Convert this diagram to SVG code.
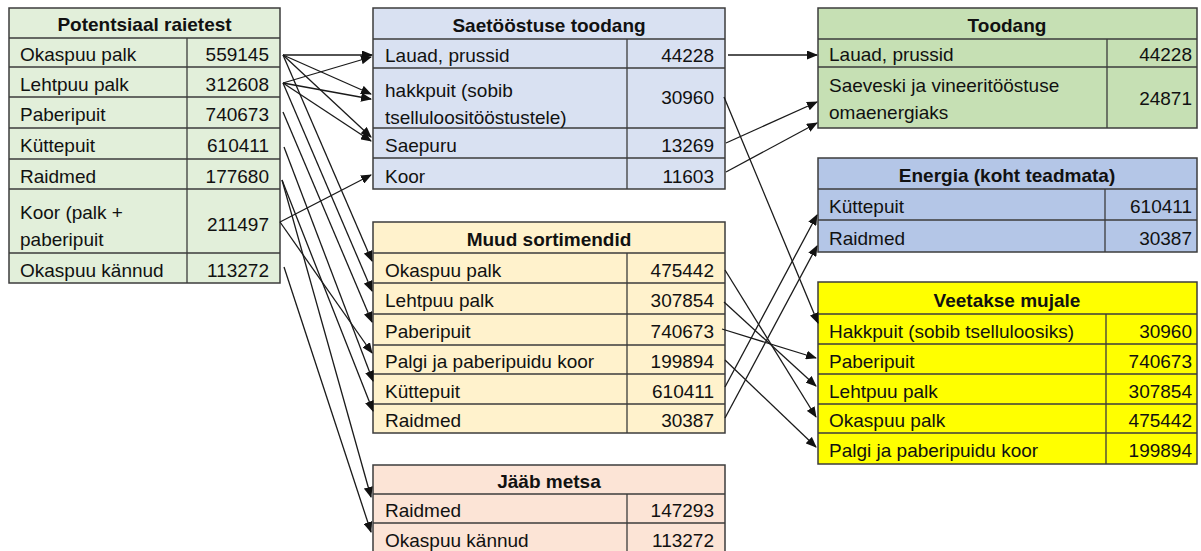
<svg xmlns="http://www.w3.org/2000/svg" width="1201" height="551" viewBox="0 0 1201 551">
<defs>
<style>
.t{font-family:"Liberation Sans",Arial,sans-serif;font-size:19px;fill:#111}
.h{font-family:"Liberation Sans",Arial,sans-serif;font-size:19px;font-weight:bold;fill:#111;text-anchor:middle}
.v{text-anchor:end}
.box{stroke:#3c3c3c;stroke-width:1.5}
.ln{stroke:#3c3c3c;stroke-width:1.3;fill:none}
.c{stroke:#1a1a1a;stroke-width:1.3;fill:none;marker-end:url(#ah)}
</style>
<marker id="ah" markerUnits="userSpaceOnUse" markerWidth="11" markerHeight="9" refX="10" refY="4.5" orient="auto">
<path d="M0,0 L11,4.5 L0,9 z" fill="#111"/>
</marker>
</defs>
<rect width="1201" height="551" fill="#fff"/>

<g id="potentsiaal">
<rect class="box" x="9" y="8" width="271" height="275" fill="#E2EFDA"/>
<path class="ln" d="M9,38H280M9,67H280M9,97H280M9,128H280M9,159H280M9,189H280M9,253H280M187,38V283"/>
<text class="h" x="144.5" y="31">Potentsiaal raietest</text>
<text class="t" x="20" y="61">Okaspuu palk</text><text class="t v" x="269" y="61">559145</text>
<text class="t" x="20" y="91">Lehtpuu palk</text><text class="t v" x="269" y="91">312608</text>
<text class="t" x="20" y="121">Paberipuit</text><text class="t v" x="269" y="121">740673</text>
<text class="t" x="20" y="152">Küttepuit</text><text class="t v" x="269" y="152">610411</text>
<text class="t" x="20" y="183">Raidmed</text><text class="t v" x="269" y="183">177680</text>
<text class="t" x="20" y="219">Koor (palk +</text><text class="t" x="20" y="246">paberipuit</text><text class="t v" x="269" y="231">211497</text>
<text class="t" x="20" y="277">Okaspuu kännud</text><text class="t v" x="269" y="277">113272</text>
</g>

<g id="saetoostus">
<rect class="box" x="373" y="8" width="352" height="181" fill="#D9E1F2"/>
<path class="ln" d="M373,39H725M373,68H725M373,128H725M373,158H725M627,39V189"/>
<text class="h" x="549" y="32">Saetööstuse toodang</text>
<text class="t" x="385" y="62">Lauad, prussid</text><text class="t v" x="714" y="62">44228</text>
<text class="t" x="385" y="97">hakkpuit (sobib</text><text class="t" x="385" y="124">tselluloositööstustele)</text><text class="t v" x="714" y="104">30960</text>
<text class="t" x="385" y="152">Saepuru</text><text class="t v" x="714" y="152">13269</text>
<text class="t" x="385" y="183">Koor</text><text class="t v" x="714" y="183">11603</text>
</g>

<g id="muud">
<rect class="box" x="373" y="222" width="352" height="211" fill="#FFF2CC"/>
<path class="ln" d="M373,253H725M373,283H725M373,314H725M373,345H725M373,374H725M373,404H725M627,253V433"/>
<text class="h" x="549" y="246">Muud sortimendid</text>
<text class="t" x="385" y="277">Okaspuu palk</text><text class="t v" x="714" y="277">475442</text>
<text class="t" x="385" y="307">Lehtpuu palk</text><text class="t v" x="714" y="307">307854</text>
<text class="t" x="385" y="338">Paberipuit</text><text class="t v" x="714" y="338">740673</text>
<text class="t" x="385" y="368">Palgi ja paberipuidu koor</text><text class="t v" x="714" y="368">199894</text>
<text class="t" x="385" y="398">Küttepuit</text><text class="t v" x="714" y="398">610411</text>
<text class="t" x="385" y="427">Raidmed</text><text class="t v" x="714" y="427">30387</text>
</g>

<g id="jaab-metsa">
<rect class="box" x="373" y="465" width="352" height="88" fill="#FCE4D6"/>
<path class="ln" d="M373,494H725M373,523H725M627,494V553"/>
<text class="h" x="549" y="488">Jääb metsa</text>
<text class="t" x="385" y="517">Raidmed</text><text class="t v" x="714" y="517">147293</text>
<text class="t" x="385" y="547">Okaspuu kännud</text><text class="t v" x="714" y="547">113272</text>
</g>

<g id="toodang">
<rect class="box" x="818" y="8" width="379" height="120" fill="#C6E0B4"/>
<path class="ln" d="M818,39H1197M818,67H1197M1107,39V128"/>
<text class="h" x="1007" y="32">Toodang</text>
<text class="t" x="829" y="61">Lauad, prussid</text><text class="t v" x="1192" y="61">44228</text>
<text class="t" x="829" y="92">Saeveski ja vineeritööstuse</text><text class="t" x="829" y="119">omaenergiaks</text><text class="t v" x="1192" y="105">24871</text>
</g>

<g id="energia">
<rect class="box" x="818" y="158" width="379" height="94" fill="#B4C6E7"/>
<path class="ln" d="M818,189H1197M818,220H1197M1105,189V252"/>
<text class="h" x="1007" y="182">Energia (koht teadmata)</text>
<text class="t" x="829" y="213">Küttepuit</text><text class="t v" x="1192" y="213">610411</text>
<text class="t" x="829" y="245">Raidmed</text><text class="t v" x="1192" y="245">30387</text>
</g>

<g id="veetakse">
<rect class="box" x="818" y="282" width="379" height="182" fill="#FFFF00"/>
<path class="ln" d="M818,314H1197M818,344H1197M818,374H1197M818,404H1197M818,433H1197M1106,314V464"/>
<text class="h" x="1007" y="307">Veetakse mujale</text>
<text class="t" x="829" y="338">Hakkpuit (sobib tselluloosiks)</text><text class="t v" x="1192" y="338">30960</text>
<text class="t" x="829" y="368">Paberipuit</text><text class="t v" x="1192" y="368">740673</text>
<text class="t" x="829" y="398">Lehtpuu palk</text><text class="t v" x="1192" y="398">307854</text>
<text class="t" x="829" y="427">Okaspuu palk</text><text class="t v" x="1192" y="427">475442</text>
<text class="t" x="829" y="457">Palgi ja paberipuidu koor</text><text class="t v" x="1192" y="457">199894</text>
</g>

<g id="connectors">
<line class="c" x1="283" y1="55" x2="372" y2="55"/>
<line class="c" x1="283" y1="83" x2="371" y2="57"/>
<line class="c" x1="283" y1="55" x2="371" y2="94"/>
<line class="c" x1="283" y1="83" x2="371" y2="99"/>
<line class="c" x1="283" y1="55" x2="371" y2="137"/>
<line class="c" x1="283" y1="83" x2="371" y2="141"/>
<line class="c" x1="280" y1="222" x2="371" y2="175"/>
<line class="c" x1="283" y1="55" x2="372" y2="261"/>
<line class="c" x1="283" y1="83" x2="372" y2="291"/>
<line class="c" x1="283" y1="112" x2="372" y2="322"/>
<line class="c" x1="280" y1="222" x2="372" y2="353"/>
<line class="c" x1="284" y1="147" x2="373" y2="381"/>
<line class="c" x1="282" y1="180" x2="373" y2="411"/>
<line class="c" x1="282" y1="180" x2="371" y2="497"/>
<line class="c" x1="284" y1="267" x2="371" y2="532"/>
<line class="c" x1="728" y1="55" x2="817" y2="55"/>
<line class="c" x1="724" y1="97" x2="818" y2="323"/>
<line class="c" x1="726" y1="143" x2="817" y2="102"/>
<line class="c" x1="726" y1="172" x2="817" y2="123"/>
<line class="c" x1="725" y1="387" x2="817" y2="215"/>
<line class="c" x1="725" y1="418" x2="817" y2="246"/>
<line class="c" x1="725" y1="270" x2="816" y2="417"/>
<line class="c" x1="724" y1="302" x2="816" y2="386"/>
<line class="c" x1="722" y1="329" x2="816" y2="358"/>
<line class="c" x1="725" y1="360" x2="816" y2="447"/>
</g>
</svg>
